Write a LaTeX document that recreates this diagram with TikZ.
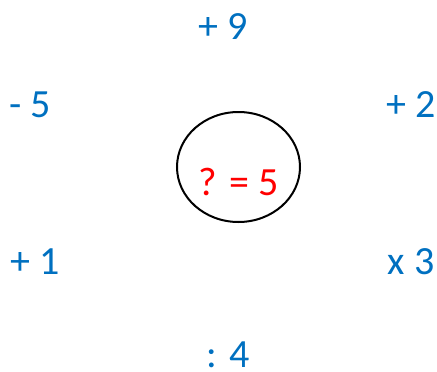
\documentclass[tikz,border=0pt]{standalone}
\usepackage{fontspec}
\setmainfont{Carlito}
\definecolor{opblue}{HTML}{0070C0}
\definecolor{opred}{HTML}{FF0000}
\begin{document}
\begin{tikzpicture}[x=1pt,y=-1pt,
  op/.style={text=opblue,inner sep=0pt,font=\fontsize{40}{48}\selectfont},
  qtext/.style={text=opred,inner sep=0pt,font=\fontsize{40}{48}\selectfont},
  ring/.style={draw=black,line width=2pt}]
\useasboundingbox (0,0) rectangle (437,372);
\node[op] (n9) at (223,27) {+ 9};
\node[op] (m5) at (30,105) {- 5};
\node[op] (p2) at (411,105) {+ 2};
\node[op] (p1) at (35,262) {+ 1};
\node[op] (x3) at (411,262) {x 3};
\node[op] (d4) at (228,355) {: 4};
\draw[ring] (238.5,167) ellipse (61.5 and 55);
\node[qtext] (q) at (238.5,182) {? = 5};
\end{tikzpicture}
\end{document}
